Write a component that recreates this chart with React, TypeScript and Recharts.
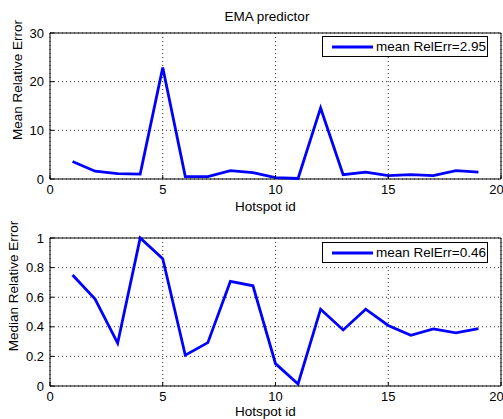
import React from 'react';
import { LineChart, Line, XAxis, YAxis, CartesianGrid, Legend, ReferenceArea } from 'recharts';

const hotspotIds = [1, 2, 3, 4, 5, 6, 7, 8, 9, 10, 11, 12, 13, 14, 15, 16, 17, 18, 19];
const meanRelErr = [3.6, 1.6, 1.1, 1.0, 22.9, 0.5, 0.5, 1.7, 1.3, 0.3, 0.1, 14.6, 0.9, 1.4, 0.7, 0.9, 0.7, 1.7, 1.4];
const medianRelErr = [0.75, 0.587, 0.289, 1.0, 0.86, 0.208, 0.293, 0.707, 0.677, 0.151, 0.014, 0.519, 0.379, 0.519, 0.409, 0.343, 0.386, 0.359, 0.388];
const xTicks = [0, 5, 10, 15, 20];
const meanTicks = [0, 10, 20, 30];
const medianTicks = [0, 0.2, 0.4, 0.6, 0.8, 1];
const meanLegend = 'mean RelErr=2.95';
const medianLegend = 'mean RelErr=0.46';

const FONT = '"Liberation Sans", Arial, sans-serif';
const BLUE = '#0000ff';

const makeRows = (values: number[]) => hotspotIds.map((id, i) => ({ id, value: values[i] }));

const LegendBox = ({ text }: { text: string }) => (
  <div
    style={{
      width: 166,
      height: 21,
      boxSizing: 'border-box',
      border: '1px solid #000',
      background: '#fff',
      position: 'relative',
      fontFamily: FONT,
      fontSize: 13.5,
    }}
  >
    <svg width={50} height={19} style={{ position: 'absolute', left: 0, top: 0 }}>
      <line x1={9} x2={50} y1={10} y2={10} stroke={BLUE} strokeWidth={2.8} />
    </svg>
    <span style={{ position: 'absolute', left: 53, top: 2, lineHeight: '16px', whiteSpace: 'nowrap' }}>{text}</span>
  </div>
);

interface PanelProps {
  values: number[];
  yTicks: number[];
  yLabel: string;
  legendText: string;
  height: number;
  top: number;
  bottom: number;
  xAxisHeight: number;
  xLabelDy: number;
  yLabelDx: number;
  legendTop: number;
}

const Panel = ({ values, yTicks, yLabel, legendText, height, top, bottom, xAxisHeight, xLabelDy, yLabelDx, legendTop }: PanelProps) => {
  const yMax = yTicks[yTicks.length - 1];
  const tickStyle = { fill: '#000', fontSize: 13, fontFamily: FONT };
  return (
    <LineChart width={503} height={height} data={makeRows(values)} margin={{ top, right: 2, bottom, left: 0 }}>
      <CartesianGrid stroke="#333" strokeDasharray="1 3" />
      <XAxis
        dataKey="id"
        type="number"
        domain={[0, 20]}
        ticks={xTicks}
        height={xAxisHeight}
        axisLine={false}
        tickLine={{ stroke: '#000' }}
        tickSize={-4}
        tickMargin={10}
        tick={tickStyle}
        label={{ value: 'Hotspot id', position: 'center', dx: -10, dy: xLabelDy, fill: '#000', fontSize: 13.5, fontFamily: FONT }}
      />
      <XAxis xAxisId="top" orientation="top" type="number" domain={[0, 20]} ticks={xTicks} height={0} axisLine={false} tick={false} tickSize={-4} tickLine={{ stroke: '#000' }} />
      <YAxis
        type="number"
        domain={[0, yMax]}
        ticks={yTicks}
        width={50}
        axisLine={false}
        tickLine={{ stroke: '#000' }}
        tickSize={-4}
        tickMargin={10}
        tick={tickStyle}
        label={{ value: yLabel, angle: -90, position: 'center', dx: yLabelDx, dy: -26, fill: '#000', fontSize: 13.5, fontFamily: FONT }}
      />
      <YAxis yAxisId="right" orientation="right" type="number" domain={[0, yMax]} ticks={yTicks} width={0} axisLine={false} tick={false} tickSize={-4} tickLine={{ stroke: '#000' }} />
      <ReferenceArea x1={0} x2={20} y1={0} y2={yMax} fill="none" stroke="#000" strokeWidth={1} />
      <Line type="linear" dataKey="value" stroke={BLUE} strokeWidth={2.8} dot={false} isAnimationActive={false} />
      <Legend
        verticalAlign="middle"
        align="center"
        content={() => <LegendBox text={legendText} />}
        wrapperStyle={{ position: 'absolute', left: 322, top: legendTop, width: 166, height: 21 }}
      />
    </LineChart>
  );
};

export default function App() {
  return (
    <div style={{ position: 'absolute', left: 0, top: 0, width: 503, height: 419, background: '#fff', overflow: 'hidden' }}>
      <div style={{ position: 'absolute', left: 0, top: 9, width: 534, textAlign: 'center', fontFamily: FONT, fontSize: 13.5, lineHeight: '16px' }}>
        EMA predictor
      </div>
      <div style={{ position: 'absolute', left: 0, top: 0 }}>
        <Panel
          values={meanRelErr}
          yTicks={meanTicks}
          yLabel="Mean Relative Error"
          legendText={meanLegend}
          height={216}
          top={33}
          bottom={6}
          xAxisHeight={31}
          xLabelDy={12}
          yLabelDx={-8}
          legendTop={36}
        />
      </div>
      <div style={{ position: 'absolute', left: 0, top: 210 }}>
        <Panel
          values={medianRelErr}
          yTicks={medianTicks}
          yLabel="Median Relative Error"
          legendText={medianLegend}
          height={209}
          top={28}
          bottom={0}
          xAxisHeight={33}
          xLabelDy={9}
          yLabelDx={-12}
          legendTop={32}
        />
      </div>
    </div>
  );
}
